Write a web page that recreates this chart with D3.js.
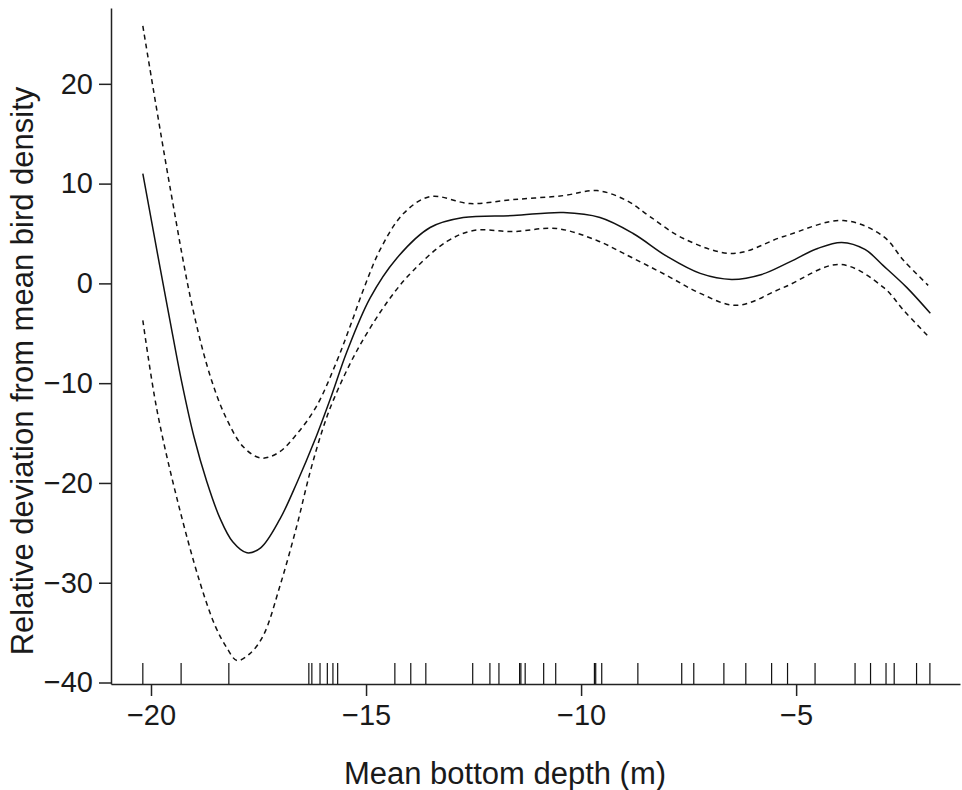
<!DOCTYPE html>
<html>
<head>
<meta charset="utf-8">
<script src="https://cdn.jsdelivr.net/npm/d3@7"></script>
<style>
  body { margin: 0; background: #fff; }
  text { font-family: "Liberation Sans", Arial, sans-serif; fill: #1a1a1a; }
</style>
</head>
<body>
<div id="chart"></div>
<script>
// smoothed fit: [depth (m), deviation]
const fitCurve = [
    [-20.19, 11.0], [-19.79, 1.6], [-19.56, -3.7], [-19.29, -9.8], [-19.00, -15.4],
    [-18.70, -19.9], [-18.40, -23.5], [-18.10, -25.9], [-17.77, -27.0], [-17.45, -26.5],
    [-17.00, -23.6], [-16.60, -19.9], [-16.20, -15.8], [-15.80, -11.2], [-15.45, -6.9],
    [-14.91, -1.5], [-14.29, 2.5], [-13.51, 5.6], [-12.74, 6.6], [-11.57, 6.8],
    [-10.41, 7.1], [-9.56, 6.6], [-8.79, 5.0], [-8.00, 2.7], [-7.23, 1.0],
    [-6.50, 0.4], [-5.80, 0.9], [-5.22, 2.0], [-4.50, 3.5], [-3.94, 4.1],
    [-3.40, 3.4], [-2.98, 1.8], [-2.43, -0.4], [-1.88, -3.0]
];

// upper confidence limit
const upperBand = [
    [-20.19, 25.8], [-19.56, 9.7], [-19.02, -2.7], [-18.60, -9.6], [-18.24, -13.6],
    [-17.85, -16.4], [-17.45, -17.5], [-17.05, -17.0], [-16.61, -15.1], [-16.15, -12.3],
    [-15.68, -7.8], [-15.37, -4.3], [-15.05, -0.5], [-14.67, 3.4], [-14.13, 7.0],
    [-13.51, 8.7], [-12.58, 8.0], [-11.57, 8.4], [-10.41, 8.8], [-9.63, 9.3],
    [-8.94, 8.3], [-8.40, 6.7], [-7.62, 4.5], [-6.46, 3.0], [-5.29, 4.7],
    [-3.90, 6.3], [-2.97, 4.7], [-2.50, 2.3], [-1.93, -0.2]
];

// lower confidence limit
const lowerBand = [
    [-20.19, -3.7], [-19.87, -12.5], [-19.40, -21.5], [-18.86, -30.0], [-18.50, -34.4],
    [-18.24, -36.5], [-18.00, -37.8], [-17.70, -37.1], [-17.39, -35.3], [-17.00, -30.3],
    [-16.61, -24.3], [-16.30, -18.9], [-16.00, -14.5], [-15.76, -11.7], [-15.22, -6.8],
    [-14.48, -1.7], [-13.90, 1.3], [-13.12, 4.2], [-12.50, 5.3], [-11.57, 5.2],
    [-10.57, 5.5], [-9.63, 4.3], [-9.01, 3.0], [-8.01, 0.8], [-7.23, -1.0],
    [-6.38, -2.2], [-5.29, -0.4], [-3.98, 1.9], [-2.97, -0.4], [-2.50, -2.7],
    [-1.93, -5.3]
];

// observed depths (rug)
const rugDepths = [
    -20.19, -19.30, -18.19, -16.33, -16.26, -16.07, -15.90, -15.77, -15.66,
    -14.33, -13.96, -13.61, -12.52, -12.12, -11.91, -11.43, -11.40, -11.30,
    -10.87, -10.59, -9.69, -9.66, -9.52, -8.68, -7.66, -7.38, -6.68, -6.17,
    -5.57, -5.20, -4.56, -3.63, -3.27, -2.91, -2.72, -2.20, -1.89
];

const xTicks = [-20, -15, -10, -5];
const yTicks = [20, 10, 0, -10, -20, -30, -40];

const xTitle = "Mean bottom depth (m)";
const yTitle = "Relative deviation from mean bird density";

const W = 962, H = 790;
const plot = { left: 111, right: 960, top: 8, bottom: 684 };

const svg = d3.select("#chart").append("svg")
    .attr("width", W)
    .attr("height", H);

const x = d3.scaleLinear()
    .domain([-20.93, -1.19])
    .range([plot.left, plot.right]);

const y = d3.scaleLinear()
    .domain([-40.15, 27.6])
    .range([plot.bottom, plot.top]);

// axes, R style: outward ticks
const xAxis = d3.axisBottom(x)
    .tickValues(xTicks)
    .tickSizeInner(12)
    .tickSizeOuter(0)
    .tickPadding(8);

const yAxis = d3.axisLeft(y)
    .tickValues(yTicks)
    .tickSizeInner(12)
    .tickSizeOuter(0)
    .tickPadding(6);

const gx = svg.append("g")
    .attr("transform", `translate(0,${plot.bottom})`)
    .call(xAxis);

const gy = svg.append("g")
    .attr("transform", `translate(${plot.left},0)`)
    .call(yAxis);

[gx, gy].forEach(g => {
    g.select(".domain").attr("stroke", "#222").attr("stroke-width", 1.5);
    g.selectAll(".tick line").attr("stroke", "#222").attr("stroke-width", 1.5);
    g.selectAll(".tick text")
        .attr("font-size", 29)
        .attr("font-family", "Liberation Sans, Arial, sans-serif")
        .attr("fill", "#1a1a1a");
});

// axis titles
svg.append("text")
    .attr("x", 505)
    .attr("y", 784)
    .attr("text-anchor", "middle")
    .attr("font-size", 31)
    .text(xTitle);

svg.append("text")
    .attr("transform", `translate(33,371) rotate(-90)`)
    .attr("text-anchor", "middle")
    .attr("font-size", 31)
    .text(yTitle);

// rug
svg.selectAll(".rug")
    .data(rugDepths)
    .enter()
    .append("line")
    .attr("class", "rug")
    .attr("x1", d => x(d))
    .attr("x2", d => x(d))
    .attr("y1", plot.bottom)
    .attr("y2", plot.bottom - 21)
    .attr("stroke", "#111")
    .attr("stroke-width", 1.2);

const line = d3.line()
    .x(d => x(d[0]))
    .y(d => y(d[1]))
    .curve(d3.curveCatmullRom.alpha(0.5));

svg.append("path")
    .datum(upperBand)
    .attr("fill", "none")
    .attr("stroke", "#111")
    .attr("stroke-width", 1.5)
    .attr("stroke-dasharray", "5,4")
    .attr("d", line);

svg.append("path")
    .datum(lowerBand)
    .attr("fill", "none")
    .attr("stroke", "#111")
    .attr("stroke-width", 1.5)
    .attr("stroke-dasharray", "5,4")
    .attr("d", line);

svg.append("path")
    .datum(fitCurve)
    .attr("fill", "none")
    .attr("stroke", "#111")
    .attr("stroke-width", 1.5)
    .attr("d", line);
</script>
</body>
</html>
